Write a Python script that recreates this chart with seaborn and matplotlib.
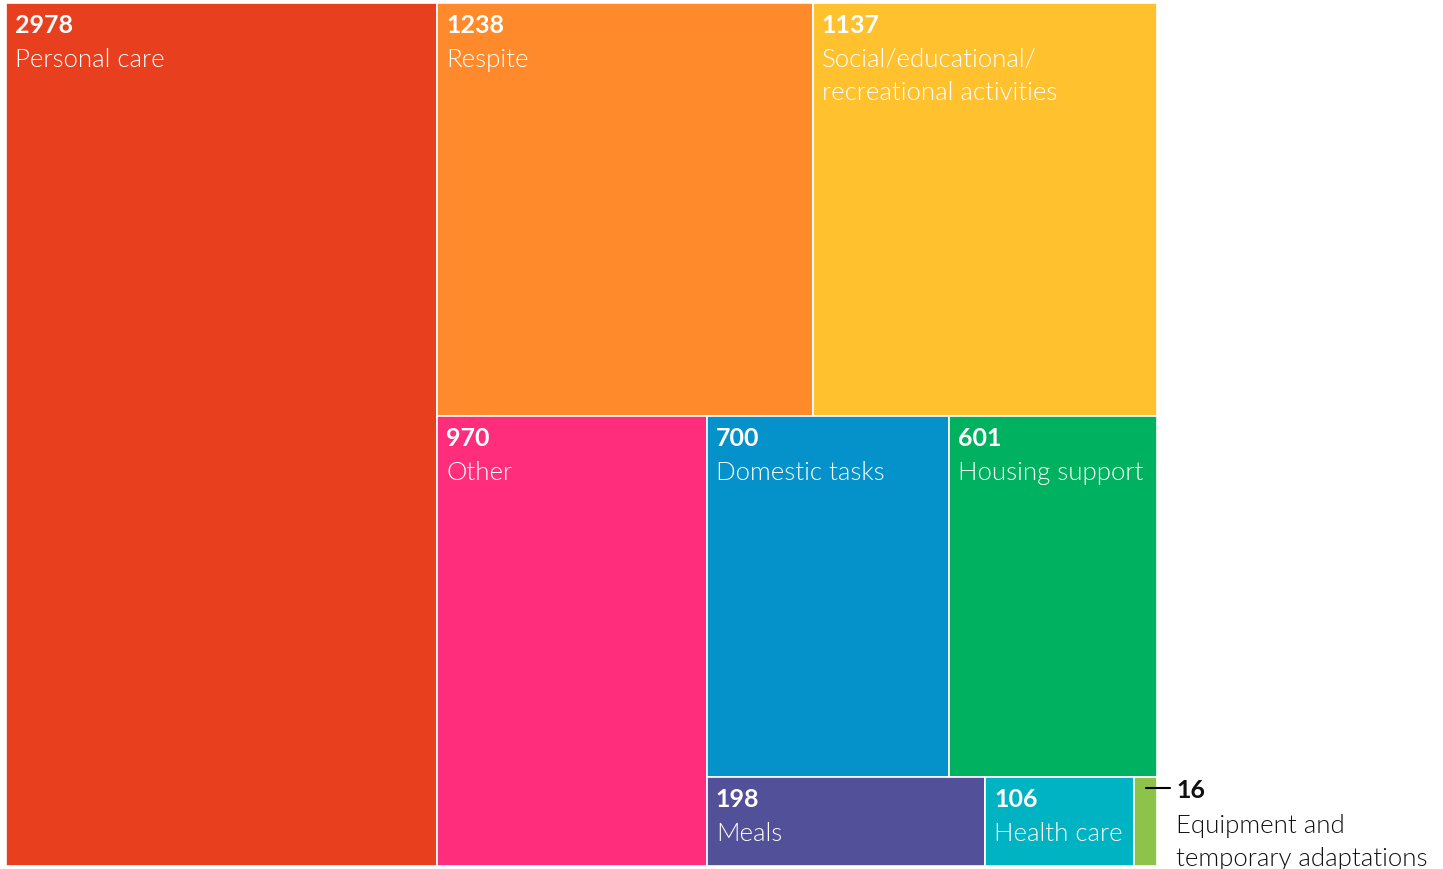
"""
Treemap of services received (counts), drawn with matplotlib patches on a seaborn theme.
"""

import matplotlib.pyplot as plt
import matplotlib.patches as mpatches
from matplotlib.transforms import offset_copy
import seaborn as sns

# data
categories = ["Personal care", "Respite", "Social/educational/\nrecreational activities",
              "Other", "Domestic tasks", "Housing support", "Meals", "Health care",
              "Equipment and\ntemporary adaptations"]
counts = [2978, 1238, 1137, 970, 700, 601, 198, 106, 16]
colors = ["#E8401F", "#FF8A2B", "#FFC12E", "#FF2D7B", "#0592CA",
          "#00B260", "#53509A", "#00B3C3", "#8DC24B"]

# nesting of the slice-and-dice layout: 'h' = side by side, 'v' = stacked
layout = ("h", [0, ("v", [("h", [1, 2]),
                          ("h", [3, ("v", [("h", [4, 5]), ("h", [6, 7, 8])])])])])


def node_total(node):
    if isinstance(node, int):
        return counts[node]
    return sum(node_total(c) for c in node[1])


def split(node, x, y, w, h, out):
    """Recursively split the rectangle by the values of each child."""
    if isinstance(node, int):
        out[node] = (x, y, w, h)
        return
    direction, children = node
    total = node_total(node)
    pos = 0.0
    for child in children:
        frac = node_total(child) / total
        if direction == "h":
            split(child, x + pos * w, y, w * frac, h, out)
        else:
            split(child, x, y + pos * h, w, h * frac, out)
        pos += frac


def label(ax, text, xy, dx, dy, color, size, weight, step=33):
    """Write text lines with the first baseline at (dx, dy) pixels from xy."""
    for k, line in enumerate(text.split("\n")):
        ax.annotate(line, xy, xytext=(dx * PX, -(dy + k * step) * PX),
                    textcoords="offset points", ha="left", va="baseline",
                    color=color, fontsize=size, fontweight=weight,
                    annotation_clip=False)


sns.set_theme(style="white")
plt.rcParams["font.family"] = ["Lato", "DejaVu Sans"]

W, H = 1443, 870
AX_W, AX_H = 1151, 863
PX = 0.72  # points per pixel at dpi 100
fig = plt.figure(figsize=(W / 100, H / 100), dpi=100)
ax = fig.add_axes([6 / W, 3 / H, AX_W / W, AX_H / H])
ax.set_xlim(0, 1)
ax.set_ylim(1, 0)
ax.axis("off")

rects = {}
split(layout, 0, 0, 1, 1, rects)

for i, (x, y, w, h) in rects.items():
    ax.add_patch(mpatches.Rectangle((x, y), w, h, facecolor=colors[i],
                                    edgecolor="white", linewidth=1.2))
    if i == len(counts) - 1:
        continue
    label(ax, f"{counts[i]}", (x, y), 9, 29, "white", 18, "bold")
    label(ax, categories[i], (x, y), 9, 63, "white", 18.5, 300)

# smallest category is labelled outside the treemap
x, y, w, h = rects[8]
line_trans = offset_copy(ax.transData, fig, x=0, y=-11 * PX, units="points")
ax.plot([x + w / 2, x + w + 13 / AX_W], [y, y], color="black", lw=1.5,
        transform=line_trans, clip_on=False)
label(ax, f"{counts[8]}", (x + w, y), 19, 20, "#111111", 18, "bold")
label(ax, categories[8], (x + w, y), 19, 55, "#111111", 18.5, 300)

fig.savefig("out.png", dpi=100)
